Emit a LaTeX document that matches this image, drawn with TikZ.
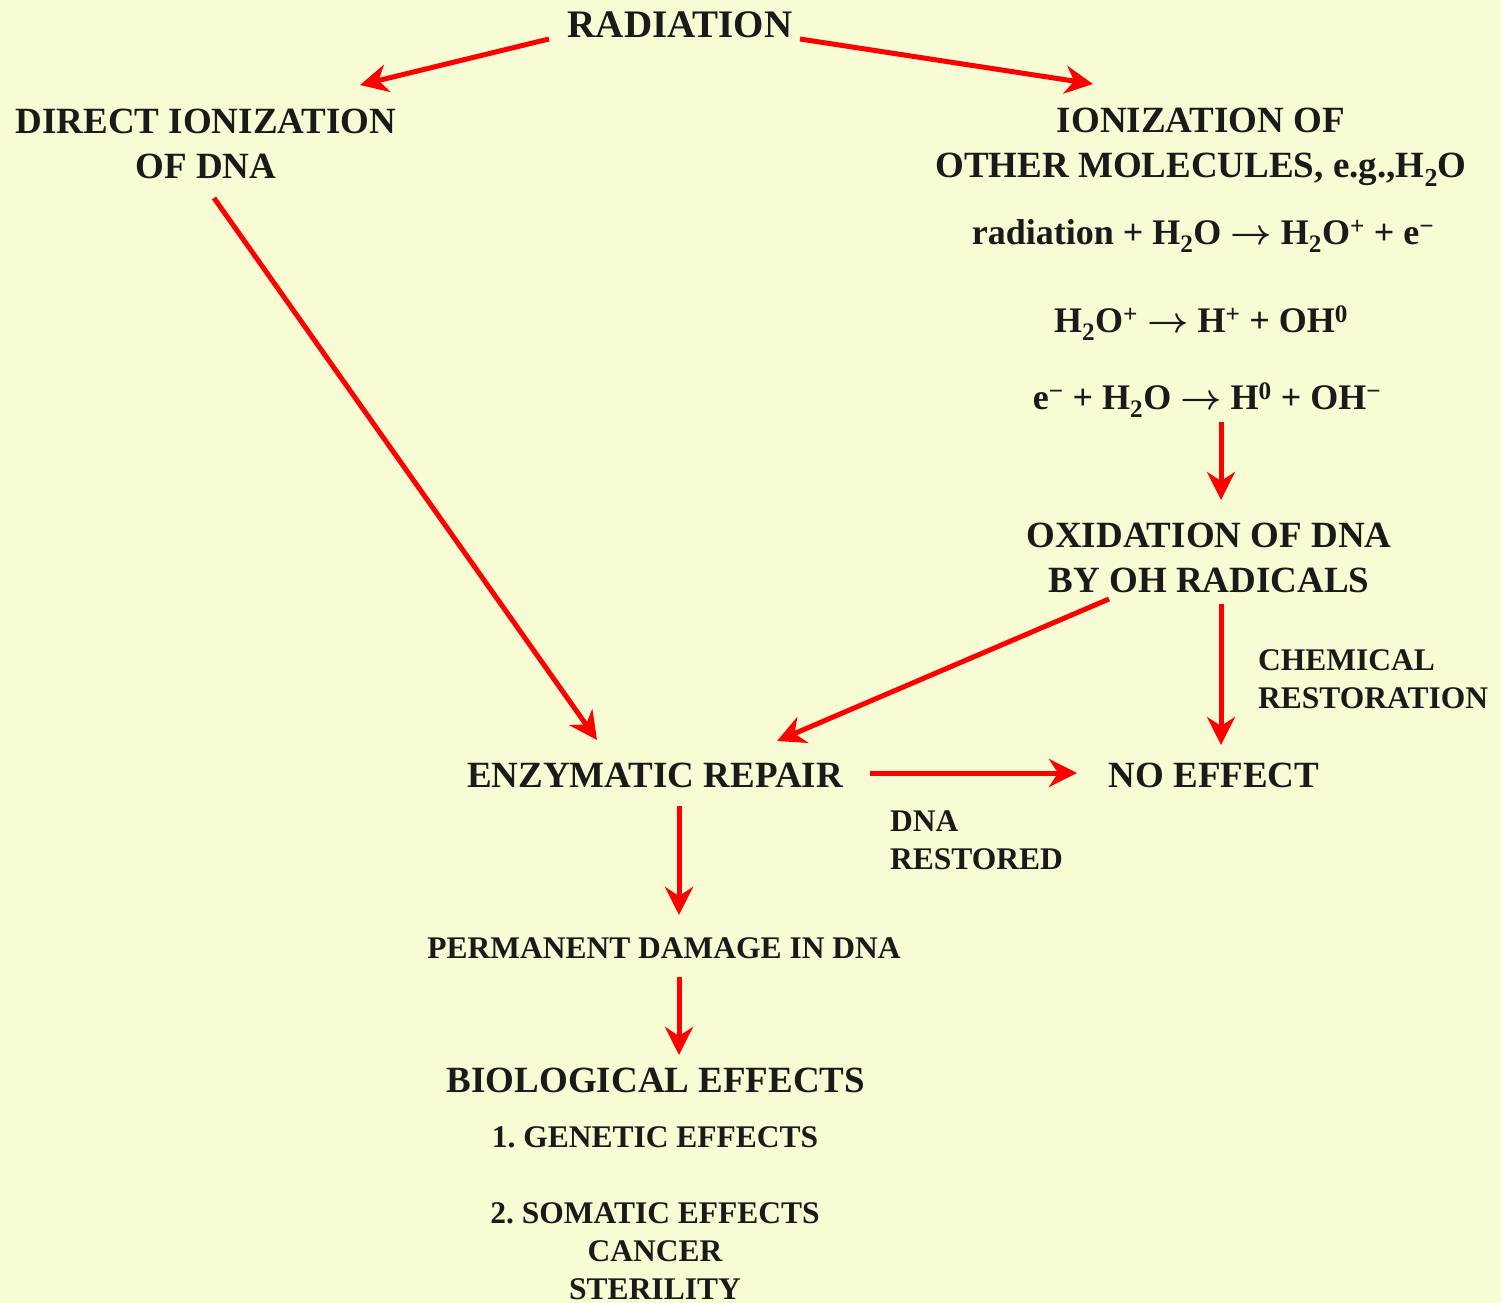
\documentclass[tikz,border=0pt]{standalone}
\usepackage{fontspec}
\usepackage{graphicx}
\setmainfont{Liberation Serif}
\usetikzlibrary{arrows.meta}
\definecolor{bg}{RGB}{248,252,212}
\definecolor{ink}{RGB}{26,26,26}
\definecolor{arrred}{RGB}{255,0,0}
\newcommand{\rarr}{\scalebox{1.45}{\boldmath$\rightarrow$}}
\begin{document}
\frenchspacing
\begin{tikzpicture}[x=1pt,y=-1pt,
  huge/.style={font=\fontsize{39}{47}\selectfont\bfseries, text=ink, inner sep=0pt},
  big/.style={font=\fontsize{37}{45}\selectfont\bfseries, text=ink, inner sep=0pt, align=center},
  eqn/.style={font=\fontsize{36}{44}\selectfont\bfseries, text=ink, inner sep=0pt, anchor=base},
  small/.style={font=\fontsize{31.5}{38}\selectfont\bfseries, text=ink, inner sep=0pt, align=center},
  flow/.style={draw=arrred, line width=5pt, -{Stealth[length=28pt,width=28pt,inset=9pt]}}]
\fill[bg] (0,0) rectangle (1501,1303);
\useasboundingbox (0,0) rectangle (1501,1303);

\node[huge] (rad) at (680,25) {RADIATION};
\node[big] (dir) at (206,144) {DIRECT IONIZATION\\OF DNA};
\node[big] (ion) at (1201,147) {IONIZATION OF\\OTHER MOLECULES, e.g.,H\textsubscript{2}O};
\node[eqn] (eq1) at (1203,244) {radiation + H\textsubscript{2}O\ \rarr\ H\textsubscript{2}O\textsuperscript{+} + e\textsuperscript{−}};
\node[eqn] (eq2) at (1201,332) {H\textsubscript{2}O\textsuperscript{+}\ \rarr\ H\textsuperscript{+} + OH\textsuperscript{0}};
\node[eqn] (eq3) at (1207,409) {e\textsuperscript{−} + H\textsubscript{2}O\ \rarr\ H\textsuperscript{0} + OH\textsuperscript{−}};
\node[big] (oxi) at (1209,558) {OXIDATION OF DNA\\BY OH RADICALS};
\node[small, align=left, anchor=west] (chem) at (1258,679) {CHEMICAL\\RESTORATION};
\node[big] (enz) at (655,775) {ENZYMATIC REPAIR};
\node[big] (noe) at (1214,775) {NO EFFECT};
\node[small, align=left, anchor=west] (dnar) at (890,840) {DNA\\RESTORED};
\node[small] (perm) at (664,948) {PERMANENT DAMAGE IN DNA};
\node[big] (bio) at (656,1080) {BIOLOGICAL EFFECTS};
\node[small] (gen) at (655,1137) {1. GENETIC EFFECTS};
\node[small] (som) at (655,1251) {2. SOMATIC EFFECTS\\CANCER\\STERILITY};

\draw[flow] ([shift={(-131,14)}]rad.center) -- ([shift={(154,-59)}]dir.center);
\draw[flow] ([shift={(120,14)}]rad.center) -- ([shift={(-108,-63)}]ion.center);
\draw[flow] ([shift={(8,54)}]dir.center) -- ([shift={(-58,-35)}]enz.center);
\draw[flow] ([shift={(14,13)}]eq3.base) -- ([shift={(12,-58)}]oxi.center);
\draw[flow] ([shift={(-100,41)}]oxi.center) -- ([shift={(122,-34)}]enz.center);
\draw[flow] ([shift={(12,46)}]oxi.center) -- ([shift={(7,-30)}]noe.center);
\draw[flow] ([shift={(215,-2)}]enz.center) -- ([shift={(-137,-2)}]noe.center);
\draw[flow] ([shift={(24,31)}]enz.center) -- ([shift={(15,-33)}]perm.center);
\draw[flow] ([shift={(15,29)}]perm.center) -- ([shift={(23,-25)}]bio.center);
\end{tikzpicture}
\end{document}
